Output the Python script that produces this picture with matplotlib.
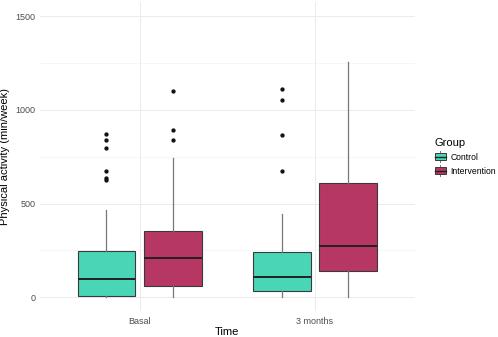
import matplotlib
matplotlib.use("Agg")
import matplotlib.pyplot as plt
from matplotlib.legend_handler import HandlerBase
from matplotlib.patches import Rectangle, Patch
from matplotlib.lines import Line2D

plt.rcParams['font.family'] = ['Liberation Sans', 'DejaVu Sans']

times = ["Basal", "3 months"]
groups = ["Control", "Intervention"]
colors = ["#48D6B6", "#B73764"]

# five-number summaries per time, per group
whislo = {"Control": [0, 0], "Intervention": [0, 0]}
q1 = {"Control": [8, 35], "Intervention": [62, 140]}
median = {"Control": [96, 107], "Intervention": [211, 272]}
q3 = {"Control": [248, 240], "Intervention": [355, 611]}
whishi = {"Control": [465, 442], "Intervention": [741, 1256]}
outliers = {
    "Control": [[869, 838, 797, 672, 634, 625], [1110, 1052, 867, 672]],
    "Intervention": [[1101, 893, 838], []],
}

y_ticks = [0, 500, 1000, 1500]

fig = plt.figure(figsize=(4.98, 3.37), dpi=100)
ax = fig.add_axes([0.080, 0.076, 0.753, 0.918])

offsets = [-0.19, 0.19]
width = 0.33
for gi, g in enumerate(groups):
    stats = []
    for ti in range(len(times)):
        stats.append(dict(med=median[g][ti], q1=q1[g][ti], q3=q3[g][ti],
                          whislo=whislo[g][ti], whishi=whishi[g][ti],
                          fliers=outliers[g][ti]))
    pos = [ti + 1 + offsets[gi] for ti in range(len(times))]
    ax.bxp(stats, positions=pos, widths=width, patch_artist=True,
           showcaps=False,
           boxprops=dict(facecolor=colors[gi], edgecolor="#3a3a3a", linewidth=0.8),
           medianprops=dict(color="#222222", linewidth=1.4),
           whiskerprops=dict(color="#777777", linewidth=0.9),
           flierprops=dict(marker="o", markerfacecolor="#111111",
                           markeredgecolor="#111111", markersize=2.1),
           zorder=3)

ax.set_xlim(0.43, 2.57)
ax.set_ylim(-75, 1575)
ax.set_xticks([1, 2])
ax.set_xticklabels(times)
ax.set_yticks(y_ticks)
ax.set_yticks([250, 750, 1250], minor=True)
ax.set_xticks([], minor=True)
ax.grid(True, which="major", color="#ebebeb", linewidth=0.7, zorder=0)
ax.grid(True, which="minor", axis="y", color="#f3f3f3", linewidth=0.5, zorder=0)
ax.set_axisbelow(True)
for s in ax.spines.values():
    s.set_visible(False)
ax.tick_params(axis="both", which="both", length=0, labelsize=6.5,
               labelcolor="#4d4d4d", pad=3)
ax.tick_params(axis="x", pad=4)
ax.set_xlabel("Time", fontsize=8, labelpad=1)
ax.set_ylabel("Physical activity (min/week)", fontsize=8, labelpad=4)


class BoxHandler(HandlerBase):
    def create_artists(self, legend, orig_handle, xdescent, ydescent,
                       width, height, fontsize, trans):
        fc = orig_handle.get_facecolor()
        x0, y0 = -xdescent, -ydescent
        rect = Rectangle((x0, y0 + height * 0.12), width, height * 0.76,
                         facecolor=fc, edgecolor="#3a3a3a", linewidth=0.7,
                         transform=trans)
        med = Line2D([x0, x0 + width], [y0 + height / 2] * 2, color="#222222",
                     linewidth=1.0, transform=trans)
        w1 = Line2D([x0 + width / 2] * 2, [y0 - height * 0.1, y0 + height * 0.12],
                    color="#777777", linewidth=0.7, transform=trans)
        w2 = Line2D([x0 + width / 2] * 2, [y0 + height * 0.88, y0 + height * 1.1],
                    color="#777777", linewidth=0.7, transform=trans)
        return [w1, w2, rect, med]


handles = [Patch(facecolor=c) for c in colors]
leg = fig.legend(handles, groups, title="Group", loc="center left",
                 bbox_to_anchor=(0.866, 0.535), frameon=False, fontsize=6.2,
                 title_fontsize=8, handler_map={Patch: BoxHandler()},
                 handlelength=1.3, handleheight=1.3, handletextpad=0.55,
                 labelspacing=0.5, borderaxespad=0)
leg._legend_box.align = "left"

fig.savefig("out.png", dpi=100)
